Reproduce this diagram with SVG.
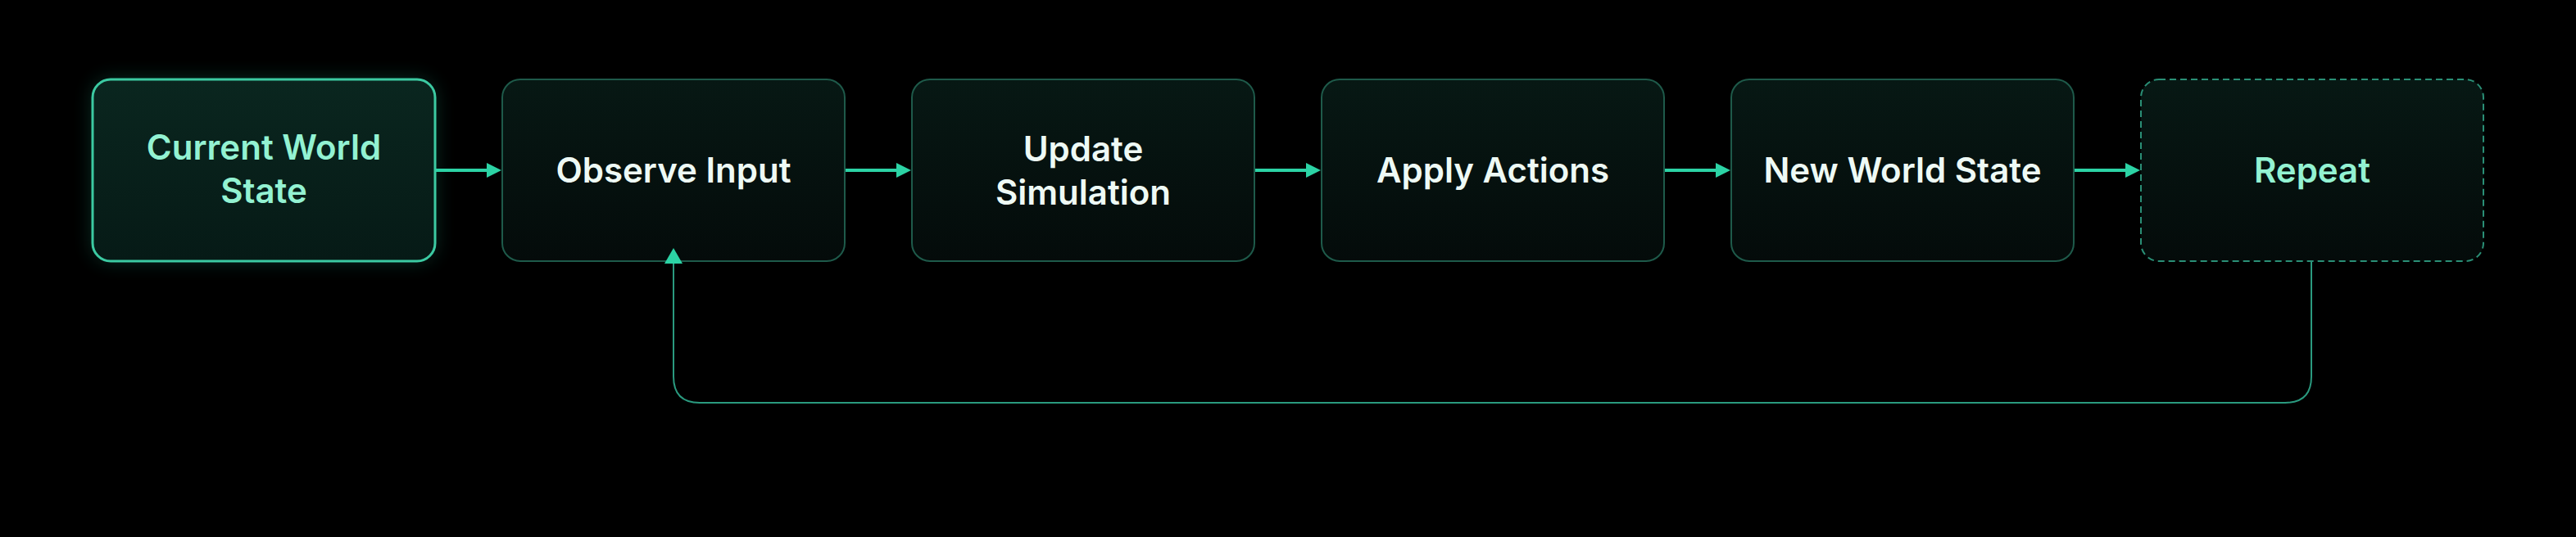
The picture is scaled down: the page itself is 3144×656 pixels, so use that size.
<svg xmlns="http://www.w3.org/2000/svg" width="3144" height="656" viewBox="0 0 3144 656">
<defs>
<linearGradient id="fill" x1="0" y1="0" x2="0" y2="1">
<stop offset="0" stop-color="#071814"/>
<stop offset="1" stop-color="#040b0a"/>
</linearGradient>
<linearGradient id="fillHi" x1="0" y1="0" x2="0" y2="1">
<stop offset="0" stop-color="#0a261f"/>
<stop offset="1" stop-color="#061a16"/>
</linearGradient>
<filter id="glow" x="-30%" y="-30%" width="160%" height="160%">
<feGaussianBlur stdDeviation="12"/>
</filter>
<style>
.box{fill:url(#fill);stroke:#1e5a4a;stroke-width:2}
.hi{fill:url(#fillHi);stroke:#3ccaa2;stroke-width:3}
.dash{fill:url(#fill);stroke:#2a8f76;stroke-width:2;stroke-dasharray:8 5}
.t{font-family:Inter,"Noto Sans","Liberation Sans",sans-serif;font-size:42px;font-weight:600;fill:#eefaf5;text-anchor:middle}
.m{fill:#93f2d2}
.arr{stroke:#2cd3a5;stroke-width:4;fill:none}
.fb{stroke:#2a9a7f;stroke-width:2;fill:none}
.head{fill:#2cd3a5}
</style>
</defs>
<rect width="3144" height="656" fill="#000"/>
<g id="node-current">
<rect x="113" y="97" width="418" height="222" rx="22" fill="#1f9a7a" opacity="0.3" filter="url(#glow)"/>
<rect class="hi" x="113" y="97" width="418" height="222" rx="22"/>
<text class="t m" x="322" y="195">Current World</text>
<text class="t m" x="322" y="248">State</text>
</g>
<g id="node-observe">
<rect class="box" x="613" y="97" width="418" height="222" rx="22"/>
<text class="t" x="822" y="223">Observe Input</text>
</g>
<g id="node-update">
<rect class="box" x="1113" y="97" width="418" height="222" rx="22"/>
<text class="t" x="1322" y="197">Update</text>
<text class="t" x="1322" y="250">Simulation</text>
</g>
<g id="node-apply">
<rect class="box" x="1613" y="97" width="418" height="222" rx="22"/>
<text class="t" x="1822" y="223">Apply Actions</text>
</g>
<g id="node-new">
<rect class="box" x="2113" y="97" width="418" height="222" rx="22"/>
<text class="t" x="2322" y="223">New World State</text>
</g>
<g id="node-repeat">
<rect class="dash" x="2613" y="97" width="418" height="222" rx="22"/>
<text class="t m" x="2822" y="223">Repeat</text>
</g>
<g id="connectors">
<line class="arr" x1="532" y1="208" x2="596" y2="208"/>
<polygon class="head" points="612,208 594,199 594,217"/>
<line class="arr" x1="1032" y1="208" x2="1096" y2="208"/>
<polygon class="head" points="1112,208 1094,199 1094,217"/>
<line class="arr" x1="1532" y1="208" x2="1596" y2="208"/>
<polygon class="head" points="1612,208 1594,199 1594,217"/>
<line class="arr" x1="2032" y1="208" x2="2096" y2="208"/>
<polygon class="head" points="2112,208 2094,199 2094,217"/>
<line class="arr" x1="2532" y1="208" x2="2596" y2="208"/>
<polygon class="head" points="2612,208 2594,199 2594,217"/>
<path class="fb" d="M2821,320 V460 Q2821,492 2789,492 H854 Q822,492 822,460 V320"/>
<polygon class="head" points="822,303 811,322 833,322"/>
</g>
</svg>
